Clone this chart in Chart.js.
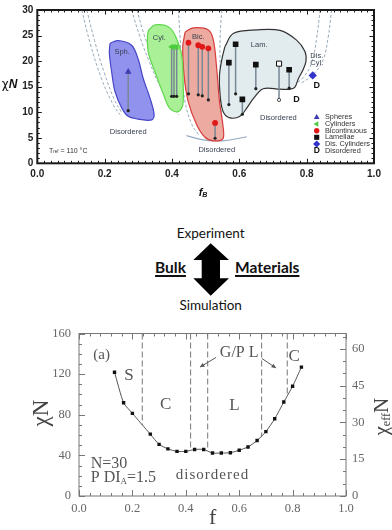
<!DOCTYPE html>
<html><head><meta charset="utf-8">
<script src="https://cdn.jsdelivr.net/npm/chart.js@4.4.1/dist/chart.umd.min.js"></script>
<style>
html,body{margin:0;padding:0;background:#fff;}
body{width:392px;height:530px;position:relative;overflow:hidden;}
canvas{position:absolute;left:0;}
#topc{top:0}
#botc{top:318px}
.mid{position:absolute;font-family:Lato,'Open Sans',sans-serif;color:#111;white-space:nowrap;line-height:18px;}
.u{font-weight:bold;font-size:15.5px;text-decoration:underline;text-decoration-thickness:1.5px;text-underline-offset:2px;}
</style></head><body>
<canvas id="topc" width="392" height="200"></canvas>
<div class="mid" style="left:110.7px;width:200px;top:224px;font-size:13.5px;text-align:center">Experiment</div>
<div class="mid u" style="left:100px;width:86px;top:258px;text-align:right">Bulk</div>
<div class="mid u" style="left:235px;top:258px;text-align:left">Materials</div>
<div class="mid" style="left:110.7px;width:200px;top:296px;font-size:13.5px;text-align:center">Simulation</div>
<svg style="position:absolute;left:190px;top:240px" width="42" height="60"><polygon fill="#000" points="20.7,3.3 3.3,20 11.7,20 11.7,38.3 3.3,38.3 20.7,55.7 39,38.3 30,38.3 30,20 39,20"/></svg>
<canvas id="botc" width="392" height="212"></canvas>
<script>
// ===================== TOP CHART DATA =====================
const sphRegion=[[0.216,23.5],[0.241,24.0],[0.280,23.1],[0.300,20.3],[0.315,16.5],[0.335,12.7],[0.347,9.5],[0.340,8.5],[0.305,8.6],[0.270,9.2],[0.251,10.8],[0.231,14.0],[0.221,17.8],[0.214,21.6],[0.216,23.5]];
const cylRegion=[[0.330,26.0],[0.350,27.1],[0.394,26.5],[0.419,23.5],[0.430,20.6],[0.433,15.9],[0.432,11.4],[0.418,10.1],[0.394,10.7],[0.374,13.6],[0.350,17.8],[0.330,21.6],[0.327,24.7],[0.330,26.0]];
const bicRegion=[[0.439,25.7],[0.463,26.5],[0.508,26.1],[0.523,24.1],[0.533,18.4],[0.541,12.1],[0.552,7.0],[0.551,4.8],[0.523,4.4],[0.498,5.1],[0.473,7.6],[0.448,12.1],[0.436,17.1],[0.432,22.8],[0.439,25.7]];
const lamRegion=[[0.557,22.8],[0.582,25.4],[0.652,26.1],[0.721,26.0],[0.770,24.1],[0.795,21.9],[0.798,20.0],[0.790,18.4],[0.775,16.5],[0.765,14.9],[0.751,14.5],[0.721,14.5],[0.671,14.6],[0.642,12.7],[0.622,10.8],[0.602,9.2],[0.572,8.9],[0.552,10.1],[0.543,13.3],[0.541,17.1],[0.548,20.3],[0.557,22.8]];
const boundaryCurves=[
 [[0.132,30],[0.157,23.5],[0.191,16.5],[0.226,11.4],[0.246,9.5]],
 [[0.147,30],[0.170,24],[0.200,17.5],[0.230,12.3],[0.250,10]],
 [[0.280,30],[0.305,24.7],[0.330,20.3],[0.364,15.2],[0.394,12.0],[0.420,9.5]],
 [[0.296,30],[0.318,25],[0.345,20.3],[0.380,15.5],[0.410,12]],
 [[0.419,30],[0.424,24.7],[0.429,18.4],[0.439,12],[0.459,7.6],[0.480,5.5]],
 [[0.548,30],[0.543,24.7],[0.543,18.4],[0.545,12],[0.550,7]],
 [[0.840,30],[0.830,24.7],[0.815,19.7],[0.790,16.8],[0.765,15.5]],
 [[0.874,30],[0.864,24.7],[0.849,20.3],[0.820,17.4],[0.780,15.5]]
];
const odtArc=[[0.443,5.4],[0.493,4.6],[0.552,4.4],[0.622,5.2]];
const sphF=[0.270], sphTop=[17.9], sphBot=[10.3];
const cylF=[0.399,0.406,0.414], cylTop=[22.8,22.8,22.8], cylBot=[13.1,13.1,13.1];
const bicF=[0.449,0.478,0.490,0.508,0.528], bicTop=[23.6,23.1,22.8,22.5,7.9], bicBot=[13.6,13.4,13.2,12.4,4.9];
const lamF=[0.569,0.589,0.609,0.649,0.748], lamTop=[19.7,23.3,12.5,19.3,18.3], lamBot=[11.5,13.6,9.6,14.6,14.7];
const lamOpenF=[0.718], lamOpenTop=[19.5], lamOpenBot=[12.4];
const disCylF=[0.818], disCylChi=[17.2];
const disF=[0.830,0.770], disChi=[15.3,12.4];
const legendLabels=['Spheres','Cylinders','Bicontinuous','Lamellae','Dis. Cylinders','Disordered'];
const topXTicks=[0,0.2,0.4,0.6,0.8,1.0];
const topYTicks=[0,5,10,15,20,25,30];

// ===================== BOTTOM CHART DATA =====================
const fVals=[0.133,0.167,0.2,0.267,0.3,0.333,0.367,0.4,0.433,0.467,0.5,0.533,0.567,0.6,0.633,0.667,0.7,0.733,0.767,0.8,0.833];
const chiN=[121.9,91.8,81.4,60.9,50.8,46.4,43.9,43.9,45.8,45.8,42.3,42.3,42.6,45.1,48.3,54.6,63.4,76,92.5,108,126.9];
const fBound=[0.237,0.418,0.482,0.684,0.78];
const boundLow=[70,46,45,58,100];
const botYTicks=[0,40,80,120,160];
const botY2Ticks=[0,15,30,45,60];
const botXTicks=[0,0.2,0.4,0.6,0.8,1.0];

// ===================== HELPERS =====================
const pts=a=>a.map(p=>({x:p[0],y:p[1]}));
function drawRich(ctx,parts,x,y,align){
  let w=0; parts.forEach(p=>{ctx.font=p.font;w+=ctx.measureText(p.t).width;});
  let cx= align==='center'? x-w/2 : (align==='right'? x-w : x);
  ctx.textAlign='left';ctx.textBaseline='middle';
  parts.forEach(p=>{ctx.font=p.font;ctx.fillText(p.t,cx,y+(p.dy||0));cx+=ctx.measureText(p.t).width;});
}
function frameTicks(chart,c){
  const ctx=chart.ctx,a=chart.chartArea,xs=chart.scales.x,ys=chart.scales.y,y2=chart.scales.y2;
  ctx.save();ctx.strokeStyle=c.color;ctx.lineWidth=c.tickW;
  const isMaj=(v,m)=>Math.abs(v/m-Math.round(v/m))<1e-6;
  let n=Math.round((xs.max-xs.min)/c.xMinor);
  for(let i=0;i<=n;i++){const v=xs.min+i*c.xMinor;const L=isMaj(v,c.xMajor)?c.majLen:c.minLen;const px=Math.round(xs.getPixelForValue(v))+0.5;
    ctx.beginPath();ctx.moveTo(px,a.bottom);ctx.lineTo(px,a.bottom-L);ctx.moveTo(px,a.top);ctx.lineTo(px,a.top+L);ctx.stroke();}
  n=Math.round((ys.max-ys.min)/c.yMinor);
  for(let i=0;i<=n;i++){const v=ys.min+i*c.yMinor;const L=isMaj(v,c.yMajor)?c.majLen:c.minLen;const py=Math.round(ys.getPixelForValue(v))+0.5;
    ctx.beginPath();ctx.moveTo(a.left,py);ctx.lineTo(a.left+L,py);
    if(!y2){ctx.moveTo(a.right,py);ctx.lineTo(a.right-L,py);}ctx.stroke();}
  if(y2){n=Math.floor((y2.max-y2.min)/c.y2Minor+1e-6);
    for(let i=0;i<=n;i++){const v=y2.min+i*c.y2Minor;const L=isMaj(v,c.y2Major)?c.majLen:c.minLen;const py=Math.round(y2.getPixelForValue(v))+0.5;
      ctx.beginPath();ctx.moveTo(a.right,py);ctx.lineTo(a.right-L,py);ctx.stroke();}}
  ctx.lineWidth=c.frameW;ctx.strokeRect(a.left,a.top,a.width,a.height);
  ctx.restore();
}

// ===================== TOP CHART =====================
const linkColor='rgb(120,135,150)';
const tds=[];
boundaryCurves.forEach(cv=>tds.push({data:pts(cv),borderColor:'rgb(150,170,185)',borderWidth:1,borderDash:[3,2],pointRadius:0,tension:0.4,fill:false,order:5}));
tds.push({data:pts(odtArc),borderColor:'rgb(150,170,195)',borderWidth:1.2,pointRadius:0,tension:0.4,fill:false,order:5});
const regions=[[sphRegion,'rgb(145,145,238)','rgb(70,70,200)'],[cylRegion,'rgb(170,240,150)','rgb(95,215,75)'],[bicRegion,'rgb(236,170,160)','rgb(215,60,60)'],[lamRegion,'rgb(226,236,238)','#333']];
regions.forEach(r=>tds.push({data:pts(r[0]),backgroundColor:r[1],borderColor:r[2],borderWidth:1.2,pointRadius:0,tension:0.35,fill:'shape',order:4}));
function links(F,T,B,dotStyle){F.forEach((f,i)=>tds.push({data:[{x:f,y:T[i]},{x:f,y:B[i]}],borderColor:linkColor,borderWidth:1.5,pointRadius:[0,1.6],pointBackgroundColor:dotStyle==='open'?'#fff':'#222',pointBorderColor:'#222',pointBorderWidth:dotStyle==='open'?0.8:0,fill:false,order:2}));}
links(sphF,sphTop,sphBot);links(cylF,cylTop,cylBot);links(bicF,bicTop,bicBot);links(lamF,lamTop,lamBot);links(lamOpenF,lamOpenTop,lamOpenBot,'open');
function markers(F,Y,style,color,r,opt){tds.push(Object.assign({data:F.map((f,i)=>({x:f,y:Y[i]})),showLine:false,pointStyle:style,pointRadius:r,pointBackgroundColor:color,pointBorderColor:color,pointBorderWidth:0,order:1},opt||{}));}
markers(sphF,sphTop,'triangle','#3b3bb0',3.8);
markers(cylF,cylTop,'triangle','#4ccc3c',3.6,{pointRotation:-90});
markers(bicF,bicTop,'circle','#e01818',2.9);
markers(lamF,lamTop,'rect','#111',4.0);
markers(lamOpenF,lamOpenTop,'rect','#fff',3.6,{pointBorderColor:'#111',pointBorderWidth:1});
markers(disCylF,disCylChi,'rectRot','#3333cc',4.2);

const topTexts=[['Sph.',0.252,21.7],['Cyl.',0.362,24.6],['Bic.',0.478,24.7],['Lam.',0.659,23.1],['Disordered',0.270,6.1],['Disordered',0.533,2.7],['Disordered',0.716,8.8],['Dis.',0.830,21.1],['Cyl.',0.830,19.7]];
const topPlugin={id:'topDeco',afterDatasetsDraw(chart){
  const ctx=chart.ctx,xs=chart.scales.x,ys=chart.scales.y;
  ctx.save();ctx.fillStyle='#3a4252';ctx.textAlign='center';ctx.textBaseline='middle';
  ctx.font='7.5px Arial, "Liberation Sans", sans-serif';
  topTexts.forEach(t=>ctx.fillText(t[0],xs.getPixelForValue(t[1]),ys.getPixelForValue(t[2])));
  ctx.fillStyle='#111';ctx.font='bold 9px Arial, "Liberation Sans", sans-serif';
  disF.forEach((f,i)=>ctx.fillText('D',xs.getPixelForValue(f),ys.getPixelForValue(disChi[i])));
  ctx.fillStyle='#333';
  drawRich(ctx,[{t:'T',font:'7px Arial'},{t:'ref',font:'4.5px Arial',dy:1.5},{t:' = 110 °C',font:'7px Arial'}],49,150.7,'left');
  // legend
  const lx=316.7, ly=[117.3,124,130.7,137.3,144,150.7];
  const H=Chart.helpers;
  const sty=[['triangle','#3b3bb0',3.3,0],['triangle','#4ccc3c',3.2,-90],['circle','#e01818',2.7,0],['rect','#111',3.6,0],['rectRot','#3333cc',3.6,0]];
  sty.forEach((s,i)=>{ctx.fillStyle=s[1];ctx.strokeStyle=s[1];H.drawPoint(ctx,{pointStyle:s[0],radius:s[2],rotation:s[3],borderWidth:0},lx,ly[i]);});
  ctx.fillStyle='#111';ctx.font='bold 8.5px Arial';ctx.textAlign='center';ctx.fillText('D',lx,ly[5]);
  ctx.fillStyle='#333';ctx.font='7.3px Arial, sans-serif';ctx.textAlign='left';
  legendLabels.forEach((l,i)=>ctx.fillText(l,325,ly[i]));
  ctx.restore();
  frameTicks(chart,{color:'#1a1a1a',tickW:1,frameW:2,minLen:2.5,majLen:4.5,xMinor:0.02,xMajor:0.2,yMinor:1,yMajor:5});
  // axis titles
  ctx.save();ctx.fillStyle='#111';
  drawRich(ctx,[{t:'χ',font:'12px "DejaVu Sans", sans-serif'},{t:'N',font:'bold italic 12px Arial'}],9.5,85,'center');
  drawRich(ctx,[{t:'f',font:'bold italic 11px Arial'},{t:'B',font:'bold italic 7px Arial',dy:2.5}],203,192.5,'center');
  ctx.restore();
}};
new Chart(document.getElementById('topc'),{
  type:'line',data:{datasets:tds},
  options:{responsive:false,animation:false,events:[],
    layout:{padding:{top:5.7,right:18,left:0,bottom:0}},
    plugins:{legend:{display:false},tooltip:{enabled:false}},
    scales:{
      x:{type:'linear',min:0,max:1,grid:{display:false,drawTicks:false},border:{display:false},
        afterBuildTicks:s=>{s.ticks=topXTicks.map(v=>({value:v}));},afterFit:s=>{s.height=36.7;},
        ticks:{padding:4.5,color:'#222',font:{family:'Arial',size:10,weight:'bold'},callback:v=>Number(v).toFixed(1),maxRotation:0}},
      y:{type:'linear',min:0,max:30,grid:{display:false,drawTicks:false},border:{display:false},
        afterBuildTicks:s=>{s.ticks=topYTicks.map(v=>({value:v}));},afterFit:s=>{s.width=37.3;},
        ticks:{padding:4,color:'#222',font:{family:'Arial',size:10,weight:'bold'}}}
    }},
  plugins:[topPlugin]
});

// ===================== BOTTOM CHART =====================
const bds=[];
bds.push({data:fVals.map((f,i)=>({x:f,y:chiN[i]})),borderColor:'#555',borderWidth:1,pointStyle:'rect',pointRadius:2.4,pointBackgroundColor:'#111',pointBorderWidth:0,tension:0.2,fill:false,order:1});
fBound.forEach((f,i)=>bds.push({data:[{x:f,y:160},{x:f,y:boundLow[i]}],borderColor:'#777',borderWidth:1,borderDash:[6,3],pointRadius:0,fill:false,order:2}));
const serif='"Liberation Serif","DejaVu Serif",serif';
const botTexts=[['(a)',0.085,138.3,15,'center'],['S',0.187,118.7,17,'center'],['C',0.325,90,17,'center'],['G/P L',0.6,141.4,16,'center'],['L',0.582,89.3,17,'center'],['C',0.806,137.6,17,'center'],['N=30',0.044,31.5,16,'left'],['d i s o r d e r e d',0.5,20.8,15,'center']];
const botPlugin={id:'botDeco',afterDatasetsDraw(chart){
  const ctx=chart.ctx,xs=chart.scales.x,ys=chart.scales.y;
  ctx.save();ctx.fillStyle='#555';ctx.textBaseline='middle';
  botTexts.forEach(t=>{ctx.font=t[3]+'px '+serif;ctx.textAlign=t[4];
    let s=t[0]; if(s.indexOf('d i')===0){s='disordered';ctx.letterSpacing='1px';}
    ctx.fillText(s,xs.getPixelForValue(t[1]),ys.getPixelForValue(t[2]));ctx.letterSpacing='0px';});
  drawRich(ctx,[{t:'P DI',font:'16px '+serif},{t:'A',font:'9px '+serif,dy:4},{t:'=1.5',font:'16px '+serif}],xs.getPixelForValue(0.044),ys.getPixelForValue(17.7),'left');
  // G/PL arrows
  ctx.strokeStyle='#555';ctx.lineWidth=1;
  const arr=(x1,y1,x2,y2)=>{const X1=xs.getPixelForValue(x1),Y1=ys.getPixelForValue(y1),X2=xs.getPixelForValue(x2),Y2=ys.getPixelForValue(y2);
    ctx.beginPath();ctx.moveTo(X1,Y1);ctx.lineTo(X2,Y2);ctx.stroke();
    const an=Math.atan2(Y2-Y1,X2-X1),h=5;ctx.beginPath();ctx.moveTo(X2,Y2);ctx.lineTo(X2-h*Math.cos(an-0.45),Y2-h*Math.sin(an-0.45));ctx.lineTo(X2-h*Math.cos(an+0.45),Y2-h*Math.sin(an+0.45));ctx.closePath();ctx.fillStyle='#555';ctx.fill();};
  arr(0.513,136.4,0.453,126.9);arr(0.685,135.4,0.738,126);
  ctx.restore();
  frameTicks(chart,{color:'#777',tickW:1,frameW:1,minLen:3,majLen:6,xMinor:0.04,xMajor:0.2,yMinor:10,yMajor:40,y2Minor:5,y2Major:15});
  ctx.save();ctx.fillStyle='#444';
  ctx.translate(41.7,95);ctx.rotate(-Math.PI/2);
  drawRich(ctx,[{t:'χN',font:'23px '+serif}],0,0,'center');
  ctx.restore();
  ctx.save();ctx.fillStyle='#444';
  ctx.translate(382,98.7);ctx.rotate(-Math.PI/2);
  drawRich(ctx,[{t:'χ',font:'21px '+serif},{t:'eff',font:'12px '+serif,dy:5},{t:'N',font:'21px '+serif}],0,0,'center');
  ctx.restore();
  ctx.save();ctx.fillStyle='#444';ctx.font='22px '+serif;ctx.textAlign='center';ctx.textBaseline='middle';ctx.fillText('f',212.7,200);ctx.restore();
}};
new Chart(document.getElementById('botc'),{
  type:'line',data:{datasets:bds},
  options:{responsive:false,animation:false,events:[],
    layout:{padding:{top:9,right:0,left:0,bottom:0}},
    plugins:{legend:{display:false},tooltip:{enabled:false}},
    scales:{
      x:{type:'linear',min:0,max:1,grid:{display:false,drawTicks:false},border:{display:false},
        afterBuildTicks:s=>{s.ticks=botXTicks.map(v=>({value:v}));},afterFit:s=>{s.height=34;},
        ticks:{padding:5,color:'#666',font:{family:'Liberation Serif',size:12.5},callback:v=>Number(v).toFixed(1),maxRotation:0}},
      y:{type:'linear',position:'left',min:0,max:160,grid:{display:false,drawTicks:false},border:{display:false},
        afterBuildTicks:s=>{s.ticks=botYTicks.map(v=>({value:v}));},afterFit:s=>{s.width=79;},
        ticks:{padding:8,color:'#666',font:{family:'Liberation Serif',size:12.5}}},
      y2:{type:'linear',position:'right',min:0,max:66.27,grid:{display:false,drawTicks:false},border:{display:false},
        afterBuildTicks:s=>{s.ticks=botY2Ticks.map(v=>({value:v}));},afterFit:s=>{s.width=46;},
        ticks:{padding:6,color:'#666',font:{family:'Liberation Serif',size:12.5}}}
    }},
  plugins:[botPlugin]
});
</script>
</body></html>
